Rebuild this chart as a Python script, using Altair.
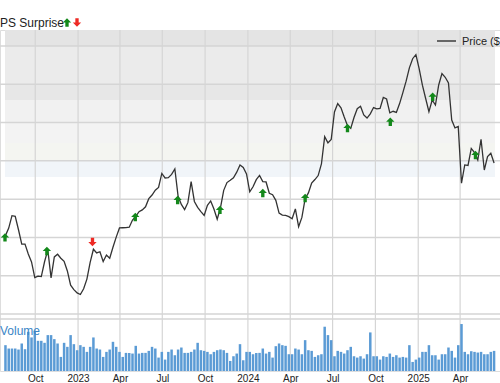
import altair as alt
import pandas as pd

# ---------------- data ----------------
week_start = "2022-07-29"
price = [
    30.47, 32.43, 35.69, 35.53, 32.01, 28.25, 28.25, 25.69, 23.60, 19.50,
    19.89, 19.76, 23.65, 26.73, 19.42, 24.91, 25.61, 24.57, 23.76, 21.25,
    17.54, 16.37, 15.51, 15.09, 16.60, 19.11, 23.47, 26.92, 25.95, 26.26,
    23.71, 25.40, 24.57, 27.44, 30.08, 32.48, 32.53, 32.58, 32.66, 34.54,
    35.48, 36.71, 37.18, 38.01, 40.13, 41.07, 42.35, 43.05, 46.71, 45.53,
    45.61, 46.45, 47.88, 40.76, 38.61, 37.26, 39.08, 44.57, 39.40, 37.86,
    36.76, 35.72, 38.38, 39.53, 37.44, 34.75, 37.75, 42.30, 44.33, 44.93,
    45.59, 47.05, 48.90, 48.28, 46.60, 41.93, 43.24, 45.09, 46.19, 44.59,
    44.49, 41.54, 41.17, 39.69, 36.34, 35.82, 35.74, 35.43, 34.86, 37.44,
    32.82, 35.22, 40.10, 41.62, 44.18, 45.12, 46.16, 49.19, 56.30, 54.70,
    55.56, 62.79, 64.96, 63.86, 61.44, 59.19, 58.46, 61.33, 63.63, 64.26,
    61.98, 61.17, 62.27, 63.92, 63.58, 63.68, 66.55, 66.16, 62.53, 62.95,
    62.66, 64.96, 67.83, 70.81, 74.28, 76.68, 77.73, 74.10, 69.76, 66.29,
    62.82, 65.90, 64.59, 69.82, 72.79, 71.83, 70.34, 60.68, 58.61, 58.98,
    44.15, 48.93, 48.80, 53.24, 52.19, 50.23, 55.64, 47.62, 51.10, 51.98, 49.45,
]
volume = [
    7.7, 6.7, 6.7, 6.7, 6.4, 8.2, 6.5, 11.7, 10.0, 12.0,
    9.0, 9.0, 8.4, 10.7, 10.7, 9.5, 8.2, 4.2, 8.4, 7.2,
    10.7, 8.0, 6.2, 7.7, 7.2, 5.7, 7.2, 10.0, 6.7, 6.4,
    4.2, 5.7, 6.4, 8.7, 7.2, 5.7, 4.2, 5.4, 5.4, 5.2,
    7.5, 5.2, 5.4, 5.4, 6.0, 7.2, 6.7, 4.0, 5.7, 3.4,
    5.7, 6.4, 4.7, 6.4, 7.0, 5.4, 5.4, 5.7, 6.4, 8.4,
    6.2, 6.0, 5.7, 5.0, 5.7, 6.2, 6.4, 6.2, 5.4, 3.0,
    4.4, 5.2, 8.0, 3.2, 5.7,
    5.7, 5.0, 5.4, 5.4, 6.7, 5.2, 5.7, 4.0, 7.4, 8.2,
    7.7, 7.5, 5.0, 5.0, 6.7, 6.4, 5.0, 9.2, 6.2, 6.0,
    4.2, 4.7, 5.0, 13.2, 10.7, 9.2, 4.4, 6.0, 5.7, 5.2,
    6.2, 7.2, 4.4, 4.0, 4.4, 3.7, 5.0, 11.5, 4.4, 4.4,
    3.4, 4.4, 4.2, 5.2, 4.2, 4.7, 4.0, 4.2, 4.0, 7.7,
    2.7, 3.4, 4.0, 5.7, 5.7, 7.7, 4.7, 4.7, 3.4, 5.0,
    5.0, 7.0, 6.0, 4.0, 7.7, 14.0, 5.7, 5.0, 5.9, 5.7,
    5.5, 5.7, 5.0, 5.0, 5.7, 6.0,
]
eps_dates = ["2022-07-28", "2022-10-26", "2023-02-01", "2023-05-04", "2023-08-03",
             "2023-11-02", "2024-02-02", "2024-05-03", "2024-08-02", "2024-11-02",
             "2025-02-01", "2025-05-04"]
eps_price = [30.0, 26.47, 28.82, 35.35, 39.79, 37.18, 41.62, 40.31, 58.59, 60.23, 66.76, 51.54]
eps_dir = ["up", "up", "down", "up", "up", "up", "up", "up", "up", "up", "up", "up"]

x_start = "2022-07-28"
x_end = "2025-06-15"
price_grid = [10, 20, 30, 40, 50, 60, 70, 80]
price_min, price_max = 10, 84.18
vol_max = 15.5
band_top = [84.18, 80, 70, 65.9, 60, 54.67, 50]
band_bottom = [80, 70, 65.9, 60, 54.67, 50, 45.8]
band_color = ["#e4e4e4", "#ebebeb", "#e7e7e7", "#f1f1f1", "#f3f3f3", "#f4f5f1", "#f1f5f9"]
quarter_ticks = ["2022-10-01", "2023-01-01", "2023-04-01", "2023-07-01", "2023-10-01",
                 "2024-01-01", "2024-04-01", "2024-07-01", "2024-10-01", "2025-01-01",
                 "2025-04-01"]

# ---------------- tables ----------------
dates = pd.date_range(week_start, periods=len(price), freq="7D")
df = pd.DataFrame({"date": dates.strftime("%Y-%m-%d"), "price": price, "volume": volume})
eps = pd.DataFrame({"date": eps_dates, "price": eps_price, "dir": eps_dir})
bands = pd.DataFrame({"x": x_start, "x2": x_end, "top": band_top,
                      "bottom": band_bottom, "color": band_color})
qgrid = pd.DataFrame({"date": quarter_ticks})
pgrid = pd.DataFrame({"price": price_grid})
vgrid = pd.DataFrame({"volume": [vol_max]})
one = pd.DataFrame({"a": [0]})

FONT = "Liberation Sans"
GRID = "#d5d5d5"
GREEN = "#13881a"
RED = "#ee2a24"
UP = "M0,-1L1,0L0.4,0L0.4,1L-0.4,1L-0.4,0L-1,0Z"
DOWN = "M0,1L1,0L0.4,0L0.4,-1L-0.4,-1L-0.4,0L-1,0Z"
ASIZE = 70

xscale = alt.Scale(domain=[alt.DateTime(year=2022, month=7, date=28),
                           alt.DateTime(year=2025, month=6, date=15)])
xaxis = alt.Axis(
    values=[alt.DateTime(year=int(d[:4]), month=int(d[5:7]), date=1) for d in quarter_ticks],
    labelExpr="month(datum.value) == 0 ? timeFormat(datum.value, '%Y') : timeFormat(datum.value, '%b')",
    title=None, grid=False, domain=False, ticks=False,
    labelFont=FONT, labelFontSize=10, labelColor="#222", labelPadding=2,
)
X = alt.X("date:T", scale=xscale, axis=xaxis)

pscale = alt.Scale(domain=[price_min, price_max], range=[284, 0], nice=False, zero=False)
PY = alt.Y("price:Q", scale=pscale, axis=None)

band_layer = alt.Chart(bands).mark_rect(clip=True).encode(
    x=alt.X("x:T", scale=xscale, axis=xaxis), x2="x2:T",
    y=alt.Y("top:Q", scale=pscale, axis=None), y2="bottom:Q",
    color=alt.Color("color:N", scale=None),
)
vrule = alt.Chart(qgrid).mark_rule(color=GRID, strokeWidth=1.2).encode(x=X)
hrule = alt.Chart(pgrid).mark_rule(color=GRID, strokeWidth=1.5).encode(y=PY)
line_layer = alt.Chart(df).mark_line(color="#333333", strokeWidth=1.3, clip=True).encode(x=X, y=PY)
up_layer = alt.Chart(eps).transform_filter("datum.dir == 'up'").mark_point(
    shape=UP, filled=True, color=GREEN, size=ASIZE, opacity=1, clip=True
).encode(x=X, y=PY)
down_layer = alt.Chart(eps).transform_filter("datum.dir == 'down'").mark_point(
    shape=DOWN, filled=True, color=RED, size=ASIZE, opacity=1, clip=True
).encode(x=X, y=PY)

price_part = alt.layer(band_layer, vrule, hrule, line_layer, up_layer, down_layer)

vscale = alt.Scale(domain=[0, vol_max], range=[341, 289], nice=False)
vol_rule = alt.Chart(vgrid).mark_rule(color=GRID, strokeWidth=1.5).encode(
    y=alt.Y("volume:Q", scale=vscale, axis=None))
vol_bars = alt.Chart(df).mark_bar(size=2.5, color="#5b9bd5", clip=True).encode(
    x=X, y=alt.Y("volume:Q", scale=vscale, axis=None))
vol_part = alt.layer(vol_rule, vol_bars)

# annotations
title_txt = alt.Chart(one).mark_text(align="left", baseline="alphabetic", font=FONT,
                                     fontSize=12, color="#222").encode(
    x=alt.value(-8), y=alt.value(-3.5), text=alt.value("EPS Surprise"))
t_up = alt.Chart(one).mark_point(shape=UP, filled=True, color=GREEN, size=ASIZE, opacity=1).encode(
    x=alt.value(67), y=alt.value(-7.5))
t_down = alt.Chart(one).mark_point(shape=DOWN, filled=True, color=RED, size=ASIZE, opacity=1).encode(
    x=alt.value(77), y=alt.value(-7.5))
leg_line = alt.Chart(one).mark_rule(color="#666666", strokeWidth=2).encode(
    x=alt.value(437), x2=alt.value(456), y=alt.value(11))
leg_txt = alt.Chart(one).mark_text(align="left", baseline="middle", font=FONT, fontSize=11,
                                   color="#222").encode(
    x=alt.value(462), y=alt.value(11.5), text=alt.value("Price ($)"))
vol_txt = alt.Chart(one).mark_text(align="left", baseline="alphabetic", font=FONT, fontSize=12,
                                   color="#3a85c6").encode(
    x=alt.value(0), y=alt.value(305), text=alt.value("Volume"))

chart = alt.layer(price_part, vol_part, title_txt, t_up, t_down, leg_line, leg_txt, vol_txt
).resolve_scale(y="independent").properties(
    width=500, height=341,
    autosize=alt.AutoSizeParams(type="none"),
    padding={"left": 0, "top": 30, "right": 0, "bottom": 12},
).configure_view(stroke=None).configure(background="white")

chart.save("out.html", embed_options={"renderer": "svg", "actions": False})
